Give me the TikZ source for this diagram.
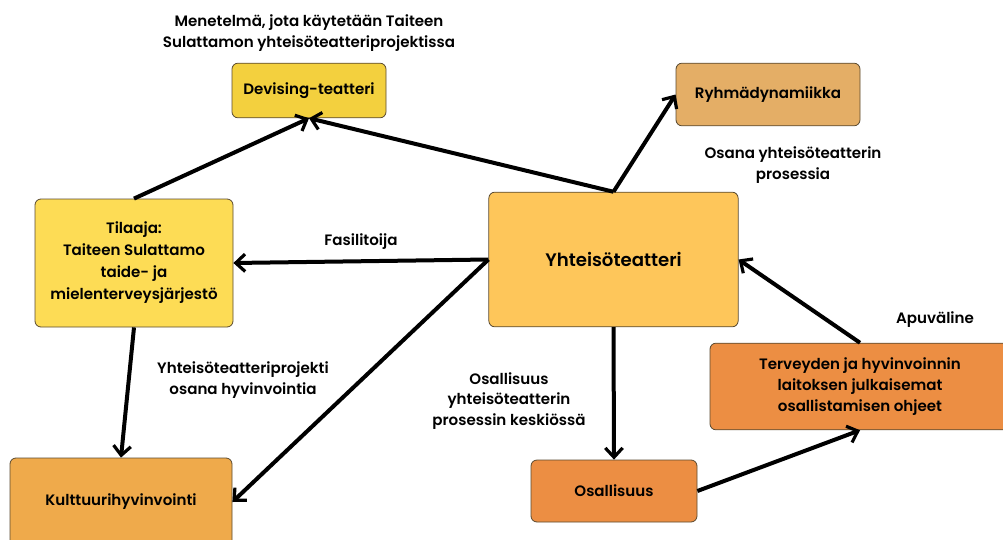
\documentclass[tikz,border=0pt]{standalone}
\usepackage{fontspec}
\setmainfont{Poppins}[BoldFont={Poppins SemiBold}]
\usetikzlibrary{arrows.meta}
\definecolor{devcol}{HTML}{F3D03E}
\definecolor{tilcol}{HTML}{FDDC55}
\definecolor{yhtcol}{HTML}{FEC65A}
\definecolor{ryhcol}{HTML}{E4AE66}
\definecolor{kulcol}{HTML}{EFAA4B}
\definecolor{oscol}{HTML}{EC8E43}
\definecolor{rimcol}{HTML}{5A4A30}
\tikzset{
box/.style={rectangle,rounded corners=4.5pt,draw=rimcol,line width=0.6pt,align=center,font=\fontsize{11.3}{14}\selectfont\bfseries,inner sep=0pt},
lbl/.style={align=center,font=\fontsize{11.3}{15.5}\selectfont\bfseries,inner sep=0pt},
conn/.style={line width=3pt,-{Straight Barb[length=7pt,width=13pt,line width=2.4pt]}},
}
\begin{document}
\begin{tikzpicture}[x=0.75pt,y=-0.75pt]
\useasboundingbox (0,0) rectangle (1003,539);
\node[box,fill=devcol,minimum width=115.5pt,minimum height=41pt] (dev) at (309,90.5) {Devising-teatteri};
\node[box,fill=ryhcol,minimum width=138pt,minimum height=47pt] (ryhm) at (768,94.5) {Ryhmädynamiikka};
\node[box,fill=yhtcol,minimum width=187pt,minimum height=101pt,font=\fontsize{13.6}{15}\selectfont\bfseries] (yht) at (613.5,259.5) {Yhteisöteatteri};
\node[box,fill=tilcol,minimum width=148.5pt,minimum height=96pt,font=\fontsize{11.3}{16.5}\selectfont\bfseries] (tilaaja) at (134,263) {Tilaaja:\\Taiteen Sulattamo\\taide- ja\\mielenterveysjärjestö};
\node[box,fill=kulcol,minimum width=166.5pt,minimum height=66pt] (kult) at (121,502) {Kulttuurihyvinvointi};
\node[box,fill=oscol,minimum width=124.5pt,minimum height=46.5pt] (osal) at (614,491) {Osallisuus};
\node[box,fill=oscol,minimum width=225pt,minimum height=65pt,font=\fontsize{11.3}{15.5}\selectfont\bfseries] (terv) at (860,386.5) {Terveyden ja hyvinvoinnin\\laitoksen julkaisemat\\osallistamisen ohjeet};
\node[lbl] (menet) at (309,33) {Menetelmä, jota käytetään Taiteen\\Sulattamon yhteisöteatteriprojektissa};
\node[lbl] (osana) at (793,165) {Osana yhteisöteatterin\\prosessia};
\node[lbl] (fasil) at (361,242) {Fasilitoija};
\node[lbl] (projekti) at (243,380) {Yhteisöteatteriprojekti\\osana hyvinvointia};
\node[lbl] (keskio) at (509,401) {Osallisuus\\yhteisöteatterin\\prosessin keskiössä};
\node[lbl] (apuv) at (935,320) {Apuväline};
\draw[conn] (tilaaja.north) -- (dev.south);
\draw[conn] (yht.north) -- (dev.south);
\draw[conn] (yht.north) -- (ryhm.west);
\draw[conn] (yht.west) -- (tilaaja.east);
\draw[conn] (yht.west) -- (kult.east);
\draw[conn] (tilaaja.south) -- (kult.north);
\draw[conn] (yht.south) -- (osal.north);
\draw[conn] (osal.east) -- (terv.south);
\draw[conn] (terv.north) -- (yht.east);
\end{tikzpicture}
\end{document}
